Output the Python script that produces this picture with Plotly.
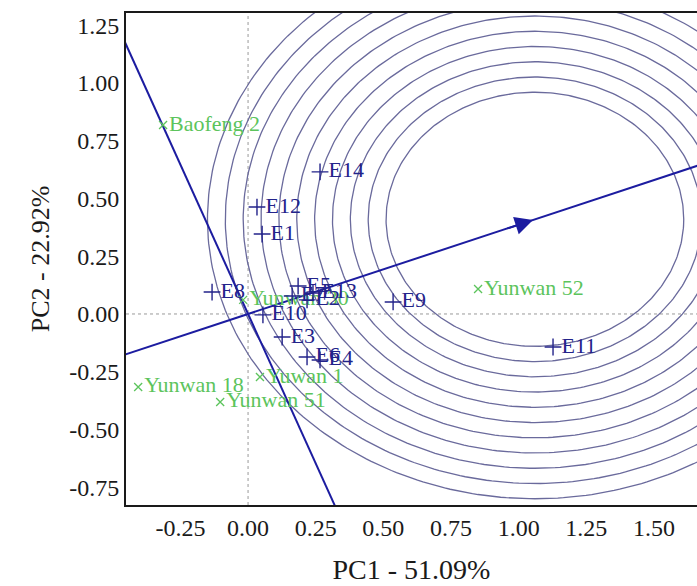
import numpy as np
import plotly.graph_objects as go

# ---------------- data ----------------
env_names = ["E1", "E2", "E3", "E4", "E5", "E6", "E7", "E8", "E9", "E10",
             "E11", "E12", "E13", "E14"]
env_pc1 = [0.052, 0.218, 0.126, 0.266, 0.185, 0.218, 0.163, -0.133, 0.536, 0.055,
           1.127, 0.033, 0.240, 0.266]
env_pc2 = [0.346, 0.061, -0.100, -0.199, 0.121, -0.186, 0.078, 0.095, 0.052, -0.004,
           -0.143, 0.463, 0.091, 0.615]

gen_names = ["Baofeng 2", "Yunwan 52", "Yunwan 18", "Yuwan 1", "Yunwan 51", "Yunwan 30"]
gen_pc1 = [-0.314, 0.850, -0.406, 0.044, -0.103, -0.018]
gen_pc2 = [0.818, 0.108, -0.316, -0.273, -0.381, 0.061]

# average environment (arrow tip / ideal environment, circle centre)
aec_tip = (1.053, 0.407)
circle_center = (1.06, 0.41)
circle_radii = [0.55, 0.616, 0.682, 0.748, 0.814, 0.88, 0.946, 1.012, 1.078, 1.144, 1.21]

x_ticks = [-0.25, 0.00, 0.25, 0.50, 0.75, 1.00, 1.25, 1.50]
y_ticks = [-0.75, -0.50, -0.25, 0.00, 0.25, 0.50, 0.75, 1.00, 1.25]
x_ticklabels = ["-0.25", "0.00", "0.25", "0.50", "0.75", "1.00", "1.25", "1.50"]
y_ticklabels = ["-0.75", "-0.50", "-0.25", "0.00", "0.25", "0.50", "0.75", "1.00", "1.25"]
x_title = "PC1 - 51.09%"
y_title = "PC2 - 22.92%"

x_range = [-0.451, 1.659]
y_range = [-0.827, 1.303]

# ---------------- styles ----------------
FONT = "Liberation Serif, Times New Roman, serif"
BLUE = "#1c1ca0"
ENV_BLUE = "#23238a"
GREEN = "#5cc45c"
CIRCLE = "#6a6a9c"
INK = "#1a1a1a"

fig = go.Figure()

# concentric circles
t = np.linspace(0, 2 * np.pi, 361)
for r in circle_radii:
    fig.add_trace(go.Scatter(
        x=circle_center[0] + r * np.cos(t),
        y=circle_center[1] + r * np.sin(t),
        mode="lines", line=dict(color=CIRCLE, width=1.3),
        hoverinfo="skip", showlegend=False))

# AEC abscissa (through origin and tip) and ordinate (perpendicular)
slope = aec_tip[1] / aec_tip[0]
xa = np.array([x_range[0] - 0.5, x_range[1] + 0.5])
fig.add_trace(go.Scatter(x=xa, y=slope * xa, mode="lines",
                         line=dict(color=BLUE, width=2), hoverinfo="skip", showlegend=False))
yo = np.array([y_range[0] - 0.5, y_range[1] + 0.5])
fig.add_trace(go.Scatter(x=-slope * yo, y=yo, mode="lines",
                         line=dict(color=BLUE, width=2), hoverinfo="skip", showlegend=False))

# genotypes
fig.add_trace(go.Scatter(
    x=gen_pc1, y=gen_pc2, mode="markers+text", text=gen_names,
    textposition="middle right",
    textfont=dict(family=FONT, size=22, color=GREEN),
    marker=dict(symbol="x-thin", size=8, line=dict(color=GREEN, width=1.3)),
    showlegend=False))

# environments
fig.add_trace(go.Scatter(
    x=env_pc1, y=env_pc2, mode="markers+text", text=env_names,
    textposition="middle right",
    textfont=dict(family=FONT, size=22, color=ENV_BLUE),
    marker=dict(symbol="cross-thin", size=12, line=dict(color=ENV_BLUE, width=1.4)),
    showlegend=False))

# arrow head on the AEC
fig.add_annotation(x=aec_tip[0], y=aec_tip[1],
                   ax=aec_tip[0] - 0.1, ay=aec_tip[1] - 0.1 * slope,
                   xref="x", yref="y", axref="x", ayref="y",
                   showarrow=True, arrowhead=2, arrowsize=1.8, arrowwidth=2,
                   arrowcolor=BLUE, text="")

fig.update_layout(
    width=697, height=586,
    margin=dict(l=126, r=0, t=13, b=81),
    plot_bgcolor="white", paper_bgcolor="white",
    font=dict(family=FONT, size=24, color=INK),
    shapes=[
        dict(type="line", xref="x", yref="paper", x0=0, x1=0, y0=0, y1=1,
             line=dict(color="#9a9a9a", width=1, dash="dot"), layer="below"),
        dict(type="line", xref="paper", yref="y", x0=0, x1=1, y0=0, y1=0,
             line=dict(color="#9a9a9a", width=1, dash="dot"), layer="below"),
    ],
    xaxis=dict(range=x_range, tickvals=x_ticks, ticktext=x_ticklabels,
               showgrid=False, zeroline=False, showline=True, linecolor=INK,
               linewidth=2, mirror=True, ticks="",
               tickfont=dict(family=FONT, size=24, color=INK),
               title=dict(text=x_title, font=dict(family=FONT, size=28, color=INK),
                          standoff=20)),
    yaxis=dict(range=y_range, tickvals=y_ticks, ticktext=y_ticklabels,
               showgrid=False, zeroline=False, showline=True, linecolor=INK,
               linewidth=2, ticks="",
               tickfont=dict(family=FONT, size=24, color=INK),
               title=dict(text=y_title, font=dict(family=FONT, size=26, color=INK),
                          standoff=12)),
)

fig.write_html("out.html")
